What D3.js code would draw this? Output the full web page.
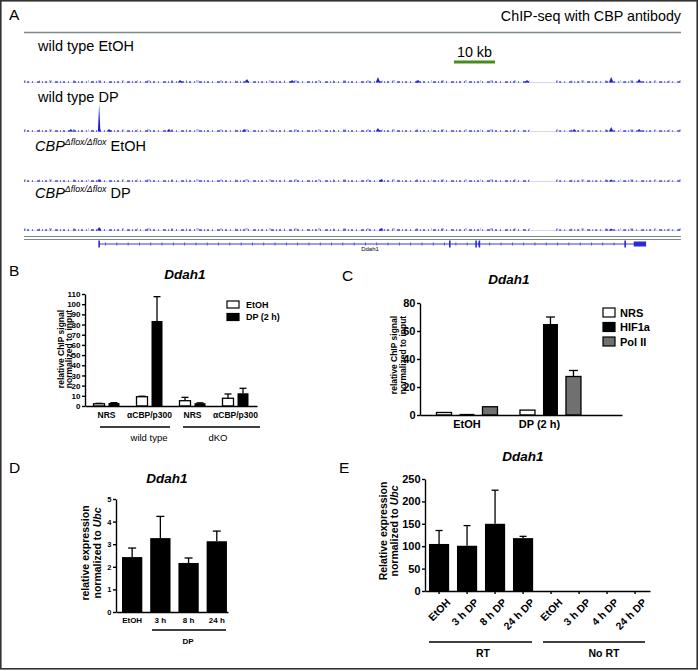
<!DOCTYPE html>
<html lang="en">
<head>
<meta charset="utf-8">
<title>Ddah1 ChIP / expression</title>
<style>
  body { margin: 0; background: #fff; }
  svg { display: block; font-family: "Liberation Sans", Arial, Helvetica, sans-serif; }
  .axis path, .axis line { stroke: #000; stroke-width: 1.4; }
</style>
<script src="https://d3js.org/d3.v7.min.js"></script>
</head>
<body>
<svg id="fig" width="698" height="671"></svg>
<script>
// ---------- A: ChIP-seq tracks (positions in kb, heights in signal units) ----------
var wtEtohPeaks = [[38, 2], [54.3, 3], [65.3, 2], [86.2, 5], [96, 2], [122.5, 2], [143, 5], [149.8, 3]];
var wtDpPeaks   = [[11.4, 2], [18.3, 27], [20.7, 2], [35.3, 2], [53.6, 2], [86.2, 3], [134, 2], [143, 4], [149.8, 2]];
var koEtohPeaks = [[18.3, 1.5], [87, 2], [143, 1.5]];
var koDpPeaks   = [[18.3, 3], [87, 2], [143, 1.5]];
var coveredKb   = [[0, 123.2], [129.6, 160]];
var geneKb      = [18.3, 151.2];
var exonKb      = [18.3, 103.7, 110.1, 110.9, 146.4];
var utrKb       = [148.5, 151.5];
var scaleBarKb  = [104.7, 114.7];

// ---------- B: ChIP qPCR, wild type vs dKO ----------
var bGroups   = ["NRS", "αCBP/p300", "NRS", "αCBP/p300"];
var bSeries   = ["EtOH", "DP (2 h)"];
var bEtoh     = [2.2, 9.1, 5.2, 7.6];
var bEtohTop  = [2.6, 9.6, 8.5, 11.8];
var bDp       = [3.0, 83.5, 2.8, 12.5];
var bDpTop    = [3.3, 107.4, 3.1, 17.4];
var bTicks    = [0, 10, 20, 30, 40, 50, 60, 70, 80, 90, 100, 110];
var bSupers   = ["wild type", "dKO"];

// ---------- C: ChIP qPCR, NRS / HIF1a / Pol II ----------
var cGroups   = ["EtOH", "DP  (2 h)"];
var cSeries   = ["NRS", "HIF1a", "Pol II"];
var cNrs      = [1.8, 3.5];
var cHif      = [0.8, 65];
var cHifTop   = [null, 70];
var cPol      = [5.9, 27.5];
var cPolTop   = [null, 31.8];
var cTicks    = [0, 20, 40, 60, 80];

// ---------- D: expression time course ----------
var dCats     = ["EtOH", "3 h", "8 h", "24 h"];
var dVals     = [2.43, 3.27, 2.17, 3.13];
var dTop      = [2.83, 4.23, 2.39, 3.58];
var dTicks    = [0, 1, 2, 3, 4, 5];

// ---------- E: RT / no RT ----------
var eCats     = ["EtOH", "3 h DP", "8 h DP", "24 h DP", "EtOH", "3 h DP", "4 h DP", "24 h DP"];
var eVals     = [105, 101, 150, 118, 0, 0, 0, 0];
var eTop      = [135, 146, 225, 122, null, null, null, null];
var eTicks    = [0, 50, 100, 150, 200, 250];

var svg = d3.select("#fig");
var FONT = '"Liberation Sans", Arial, Helvetica, sans-serif';

svg.append("rect").attr("x", 0.8).attr("y", 0.8).attr("width", 696.4).attr("height", 668)
  .attr("fill", "none").attr("stroke", "#333").attr("stroke-width", 1.6);

function txt(x, y, s, size, opts) {
  opts = opts || {};
  return svg.append("text").attr("x", x).attr("y", y).text(s)
    .attr("font-size", size)
    .attr("font-weight", opts.bold ? "bold" : "normal")
    .attr("font-style", opts.italic ? "italic" : "normal")
    .attr("text-anchor", opts.anchor || "start")
    .attr("fill", "#000");
}

// panel letters
txt(9, 20, "A", 15.5);
txt(9, 276, "B", 15.5);
txt(342, 281, "C", 15.5);
txt(9, 473, "D", 15.5);
txt(339, 473, "E", 15.5);

// ================= Panel A =================
var xA = d3.scaleLinear().domain([0, 160]).range([24, 681]);
var hA = d3.scaleLinear().domain([0, 30]).range([0, 30]);
var trackBase = [82, 131, 181, 230];

txt(681, 21, "ChIP-seq with CBP antibody", 14.3, {anchor: "end"});
svg.append("line").attr("x1", xA(0)).attr("x2", xA(160)).attr("y1", 32.5).attr("y2", 32.5)
  .attr("stroke", "#7d8b8b").attr("stroke-width", 1.6);

// scale bar
svg.append("line").attr("x1", xA(scaleBarKb[0])).attr("x2", xA(scaleBarKb[1]))
  .attr("y1", 62).attr("y2", 62).attr("stroke", "#4a8c1c").attr("stroke-width", 3);
txt((xA(scaleBarKb[0]) + xA(scaleBarKb[1])) / 2, 56.5, "10 kb", 14.3, {anchor: "middle"});

// track labels
txt(38, 50.5, "wild type EtOH", 14.5);
txt(38, 101.5, "wild type DP", 14.5);
[[150.5, "EtOH"], [197.5, "DP"]].forEach(function (d) {
  var t = svg.append("text").attr("x", 35).attr("y", d[0]).attr("font-size", 14.5);
  t.append("tspan").attr("font-style", "italic").text("CBP");
  t.append("tspan").attr("font-style", "italic").attr("font-size", 8.8).attr("dy", -5.5).text("Δflox/Δflox");
  t.append("tspan").attr("dy", 5.5).text(" " + d[1]);
});

var tracks = [wtEtohPeaks, wtDpPeaks, koEtohPeaks, koDpPeaks];
tracks.forEach(function (peaks, i) {
  var base = trackBase[i];
  var g = svg.append("g");
  g.append("line").attr("x1", xA(0)).attr("x2", xA(160)).attr("y1", base + 0.5).attr("y2", base + 0.5)
    .attr("stroke", "#d6d6ef").attr("stroke-width", 1);
  coveredKb.forEach(function (c) {
    g.append("line").attr("x1", xA(c[0])).attr("x2", xA(c[1])).attr("y1", base).attr("y2", base)
      .attr("stroke", "#2a2ad6").attr("stroke-width", 1.3).attr("opacity", 0.85)
      .attr("stroke-dasharray", "1,2,2,3,1,4,3,2");
    g.append("line").attr("x1", xA(c[0])).attr("x2", xA(c[1])).attr("y1", base - 1).attr("y2", base - 1)
      .attr("stroke", "#2a2ad6").attr("stroke-width", 1).attr("opacity", 0.6)
      .attr("stroke-dasharray", "2,13,1,9,3,21");
  });
  var area = d3.area().x(function (d) { return xA(d[0]); })
    .y0(base + 0.5).y1(function (d) { return base - hA(d[1]); });
  peaks.forEach(function (p) {
    var w = p[1] > 10 ? 0.3 : 0.5;
    g.append("path").attr("d", area([[p[0] - w, 0], [p[0], p[1]], [p[0] + w, 0]]))
      .attr("fill", "#1f1fd8");
  });
});

// lines above the gene track
[236.5, 239.5].forEach(function (y) {
  svg.append("line").attr("x1", xA(0)).attr("x2", xA(160)).attr("y1", y).attr("y2", y)
    .attr("stroke", "#7d8b8b").attr("stroke-width", 1.2);
});

// gene model
var geneY = 244;
svg.append("line").attr("x1", xA(geneKb[0])).attr("x2", xA(geneKb[1])).attr("y1", geneY).attr("y2", geneY)
  .attr("stroke", "#3b3be0").attr("stroke-width", 1);
svg.append("line").attr("x1", xA(geneKb[0]) + 6).attr("x2", xA(geneKb[1]) - 12).attr("y1", geneY).attr("y2", geneY)
  .attr("stroke", "#3b3be0").attr("stroke-width", 3).attr("stroke-dasharray", "0.8,10.5");
exonKb.forEach(function (k) {
  svg.append("rect").attr("x", xA(k) - 0.8).attr("y", geneY - 3.5).attr("width", 1.6).attr("height", 7)
    .attr("fill", "#2a2ad6");
});
svg.append("rect").attr("x", xA(utrKb[0])).attr("y", geneY - 2.5).attr("width", xA(utrKb[1]) - xA(utrKb[0]))
  .attr("height", 5).attr("fill", "#2a2ad6");
txt(370, 250.5, "Ddah1", 6, {anchor: "middle"});

// ================= helpers =================
function yAxis(x0, y, ticks, fs) {
  var ax = svg.append("g").attr("class", "axis").attr("transform", "translate(" + x0 + ",0)")
    .call(d3.axisLeft(y).tickValues(ticks).tickFormat(d3.format("d"))
      .tickSize(3).tickPadding(1.5).tickSizeOuter(0));
  ax.selectAll("text").attr("font-size", fs).attr("font-weight", "bold")
    .attr("font-family", FONT).attr("fill", "#000");
  return ax;
}
function yTitle(xs, cy, lines, fs) {
  lines.forEach(function (l, i) {
    var t = svg.append("text").attr("transform", "translate(" + xs[i] + "," + cy + ") rotate(-90)")
      .attr("text-anchor", "middle").attr("font-size", fs).attr("font-weight", "bold");
    l.forEach(function (part) {
      t.append("tspan").attr("font-style", part[1] ? "italic" : "normal").text(part[0]);
    });
  });
}
function bar(x, w, y, v, top, fill, capW) {
  var g = svg.append("g");
  if (top != null) {
    var cx = x + w / 2;
    g.append("line").attr("x1", cx).attr("x2", cx).attr("y1", y(v)).attr("y2", y(top))
      .attr("stroke", "#000").attr("stroke-width", 1.3);
    g.append("line").attr("x1", cx - capW / 2).attr("x2", cx + capW / 2).attr("y1", y(top)).attr("y2", y(top))
      .attr("stroke", "#000").attr("stroke-width", 1.3);
  }
  if (v > 0) {
    g.append("rect").attr("x", x).attr("width", w).attr("y", y(v)).attr("height", y(0) - y(v))
      .attr("fill", fill).attr("stroke", "#000").attr("stroke-width", fill === "#000" ? 0 : 1.3);
  }
}
function title(x, y) { txt(x, y, "Ddah1", 13.5, {bold: true, italic: true, anchor: "middle"}); }

// ================= Panel B =================
title(185, 278.5);
var yB = d3.scaleLinear().domain([0, 110]).range([406, 294]);
var xB = d3.scaleBand().domain(d3.range(bGroups.length)).range([85, 257]);
var sB = d3.scaleBand().domain(bSeries).range([0, xB.bandwidth()]).paddingInner(0.267).paddingOuter(0.567);
bGroups.forEach(function (g, i) {
  bar(xB(i) + sB("EtOH"), sB.bandwidth(), yB, bEtoh[i], bEtohTop[i], "#fff", 7);
  bar(xB(i) + sB("DP (2 h)"), sB.bandwidth(), yB, bDp[i], bDpTop[i], "#000", 7);
});
var axBx = svg.append("g").attr("class", "axis").attr("transform", "translate(0,406)")
  .call(d3.axisBottom(xB).tickSize(0).tickSizeOuter(0).tickPadding(6).tickFormat(function (i) { return bGroups[i]; }));
axBx.selectAll("text").attr("font-size", 8.5).attr("font-weight", "bold").attr("font-family", FONT).attr("fill", "#000");
yAxis(85, yB, bTicks, 8);
yTitle([63.5, 72], 349, [[["relative ChIP signal"]], [["normalized to input"]]], 8.5);
[[100, 170, 149], [183, 260, 218]].forEach(function (d, i) {
  svg.append("line").attr("x1", d[0]).attr("x2", d[1]).attr("y1", 427).attr("y2", 427)
    .attr("stroke", "#000").attr("stroke-width", 1.3);
  txt(d[2], 440.5, bSupers[i], 9.5, {anchor: "middle"});
});
bSeries.forEach(function (s, i) {
  svg.append("rect").attr("x", 227).attr("y", 301 + i * 12.5).attr("width", 12).attr("height", 7)
    .attr("fill", i ? "#000" : "#fff").attr("stroke", "#000").attr("stroke-width", 1.2);
  txt(246, 307.5 + i * 12.5, s, 9, {bold: true});
});

// ================= Panel C =================
title(509, 283.5);
var yC = d3.scaleLinear().domain([0, 80]).range([415, 303]);
var xC = d3.scaleBand().domain(cGroups).range([420, 622]).paddingInner(0).paddingOuter(0.21).align(0.15);
var sC = d3.scaleBand().domain(cSeries).range([0, xC.bandwidth()]).paddingInner(0.348).paddingOuter(0.489);
var cFill = {"NRS": "#fff", "HIF1a": "#000", "Pol II": "#707070"};
cGroups.forEach(function (g, i) {
  bar(xC(g) + sC("NRS"), sC.bandwidth(), yC, cNrs[i], null, cFill["NRS"], 9);
  bar(xC(g) + sC("HIF1a"), sC.bandwidth(), yC, cHif[i], cHifTop[i], cFill["HIF1a"], 9);
  bar(xC(g) + sC("Pol II"), sC.bandwidth(), yC, cPol[i], cPolTop[i], cFill["Pol II"], 9);
});
var axCx = svg.append("g").attr("class", "axis").attr("transform", "translate(0,415)")
  .call(d3.axisBottom(xC).tickSize(0).tickSizeOuter(0).tickPadding(5));
axCx.selectAll("text").attr("font-size", 11).attr("font-weight", "bold").attr("font-family", FONT).attr("fill", "#000")
  .attr("dx", function (d) { return d === "EtOH" ? 0 : -11; });
yAxis(420, yC, cTicks, 11);
yTitle([396.5, 405.5], 355, [[["relative ChIP signal"]], [["normalized to input"]]], 8.5);
cSeries.forEach(function (s, i) {
  svg.append("rect").attr("x", 603).attr("y", 308 + i * 14.5).attr("width", 12).attr("height", 9)
    .attr("fill", cFill[s]).attr("stroke", "#000").attr("stroke-width", 1.2);
  txt(620, 316.5 + i * 14.5, s, 11, {bold: true});
});

// ================= Panel D =================
title(167, 482.5);
var yD = d3.scaleLinear().domain([0, 5]).range([612, 499]);
var xD = d3.scaleBand().domain(dCats).range([116, 228]).paddingInner(0.28).paddingOuter(0.125).align(0.85);
dCats.forEach(function (c, i) {
  bar(xD(c), xD.bandwidth(), yD, dVals[i], dTop[i], "#000", 8);
});
var axDx = svg.append("g").attr("class", "axis").attr("transform", "translate(0,612)")
  .call(d3.axisBottom(xD).tickSize(0).tickSizeOuter(0).tickPadding(5));
axDx.selectAll("text").attr("font-size", 8).attr("font-weight", "bold").attr("font-family", FONT).attr("fill", "#000");
yAxis(116, yD, dTicks, 7.5);
yTitle([89, 101], 553, [[["relative expression"]], [["normalized to "], ["Ubc", true]]], 10.5);
svg.append("line").attr("x1", 152).attr("x2", 226).attr("y1", 630).attr("y2", 630)
  .attr("stroke", "#000").attr("stroke-width", 1.3);
txt(188, 644, "DP", 8, {bold: true, anchor: "middle"});

// ================= Panel E =================
title(523, 460.5);
var yE = d3.scaleLinear().domain([0, 250]).range([591, 479]);
var xE = d3.scaleBand().domain(d3.range(eCats.length)).range([425, 650]).paddingInner(0.28).paddingOuter(0.158).align(0.45);
eCats.forEach(function (c, i) {
  bar(xE(i), xE.bandwidth(), yE, eVals[i], eTop[i], "#000", 7);
});
var axEx = svg.append("g").attr("class", "axis").attr("transform", "translate(0,591)")
  .call(d3.axisBottom(xE).tickSize(3).tickSizeOuter(0).tickPadding(2).tickFormat(function (i) { return eCats[i]; }));
axEx.selectAll("text").attr("font-size", 10.5).attr("font-weight", "bold").attr("font-family", FONT).attr("fill", "#000")
  .attr("text-anchor", "end").attr("dy", "0.35em").attr("transform", "translate(6,6) rotate(-45)");
yAxis(425, yE, eTicks, 11);
yTitle([387, 398], 531, [[["Relative expression"]], [["normalized to "], ["Ubc", true]]], 10.5);
[[429, 532, 483, "RT"], [543, 645, 604, "No RT"]].forEach(function (d) {
  svg.append("line").attr("x1", d[0]).attr("x2", d[1]).attr("y1", 642).attr("y2", 642)
    .attr("stroke", "#000").attr("stroke-width", 1.3);
  txt(d[2], 657, d[3], 10.5, {bold: true, anchor: "middle"});
});
</script>
</body>
</html>
